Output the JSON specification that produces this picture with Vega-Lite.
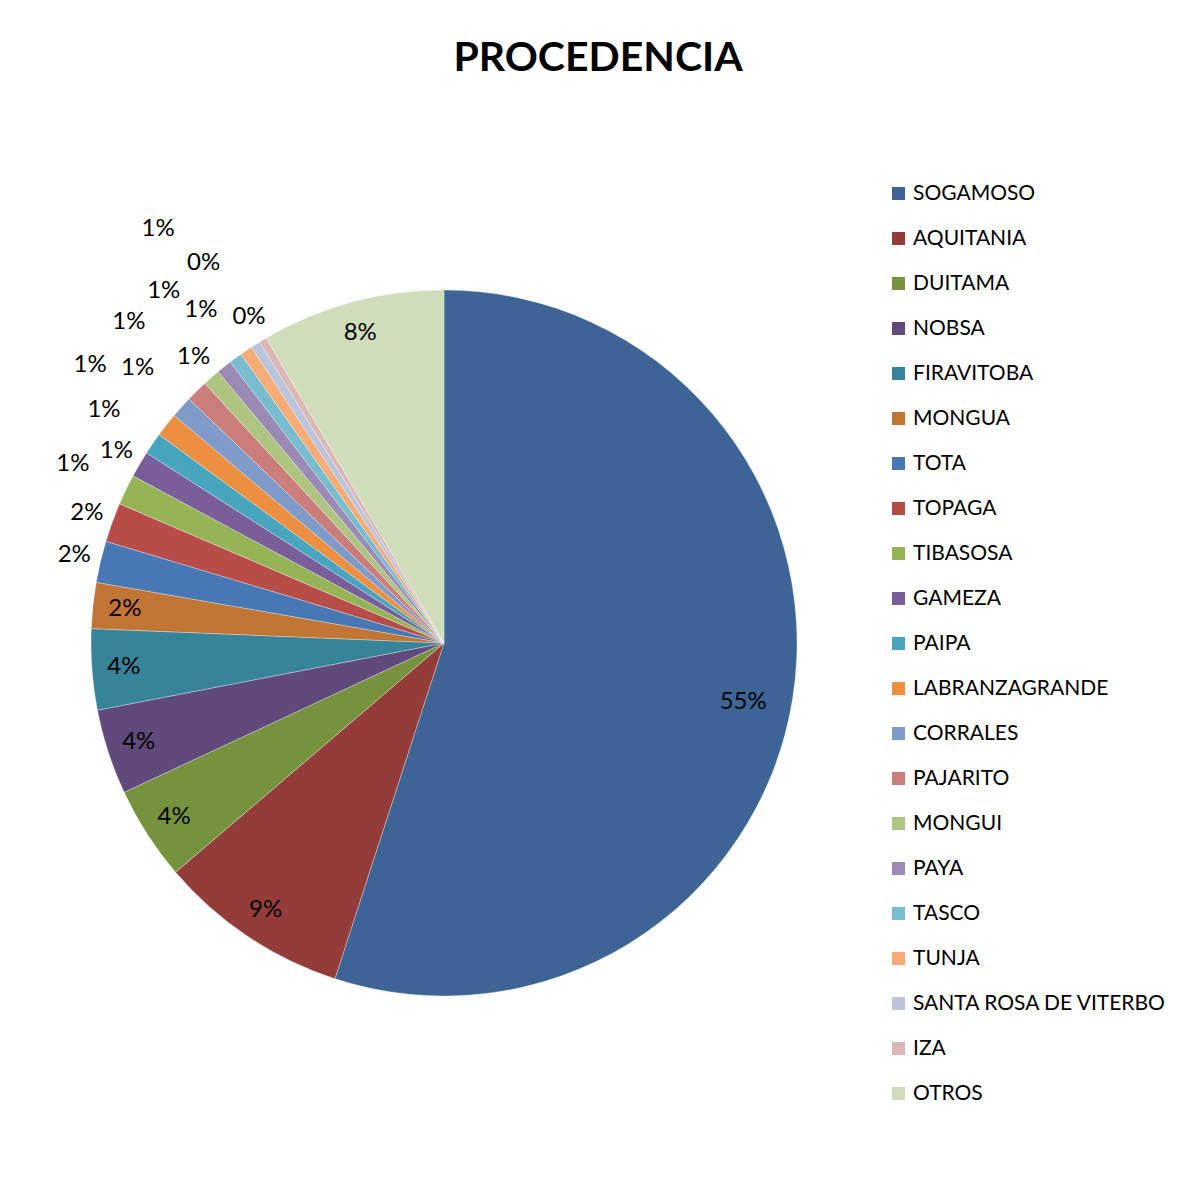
{
  "$schema": "https://vega.github.io/schema/vega-lite/v6.json",
  "autosize": {"type": "none"},
  "padding": {"left": 0, "top": 100, "right": 293, "bottom": 11},
  "width": 888,
  "height": 1086,
  "background": "#ffffff",
  "title": {
    "text": "PROCEDENCIA",
    "font": "Lato",
    "fontSize": 41,
    "fontWeight": "bold",
    "color": "#000000",
    "anchor": "middle",
    "frame": "group",
    "dx": 154,
    "dy": 40,
    "offset": 28,
    "baseline": "alphabetic"
  },
  "data": {
    "values": [
      {"procedencia": "SOGAMOSO", "porcentaje": 55.0, "orden": 1},
      {"procedencia": "AQUITANIA", "porcentaje": 8.75, "orden": 2},
      {"procedencia": "DUITAMA", "porcentaje": 4.3, "orden": 3},
      {"procedencia": "NOBSA", "porcentaje": 3.9, "orden": 4},
      {"procedencia": "FIRAVITOBA", "porcentaje": 3.7, "orden": 5},
      {"procedencia": "MONGUA", "porcentaje": 2.1, "orden": 6},
      {"procedencia": "TOTA", "porcentaje": 1.9, "orden": 7},
      {"procedencia": "TOPAGA", "porcentaje": 1.8, "orden": 8},
      {"procedencia": "TIBASOSA", "porcentaje": 1.4, "orden": 9},
      {"procedencia": "GAMEZA", "porcentaje": 1.2, "orden": 10},
      {"procedencia": "PAIPA", "porcentaje": 1.0, "orden": 11},
      {"procedencia": "LABRANZAGRANDE", "porcentaje": 1.1, "orden": 12},
      {"procedencia": "CORRALES", "porcentaje": 1.0, "orden": 13},
      {"procedencia": "PAJARITO", "porcentaje": 1.0, "orden": 14},
      {"procedencia": "MONGUI", "porcentaje": 0.8, "orden": 15},
      {"procedencia": "PAYA", "porcentaje": 0.7, "orden": 16},
      {"procedencia": "TASCO", "porcentaje": 0.6, "orden": 17},
      {"procedencia": "TUNJA", "porcentaje": 0.56, "orden": 18},
      {"procedencia": "SANTA ROSA DE VITERBO", "porcentaje": 0.44, "orden": 19},
      {"procedencia": "IZA", "porcentaje": 0.35, "orden": 20},
      {"procedencia": "OTROS", "porcentaje": 8.4, "orden": 21}
    ]
  },
  "transform": [
    {"joinaggregate": [{"op": "sum", "field": "porcentaje", "as": "total"}]},
    {"calculate": "format(datum.porcentaje / datum.total, '.0%')", "as": "etiqueta"}
  ],
  "encoding": {
    "theta": {"field": "porcentaje", "type": "quantitative", "stack": true},
    "order": {"field": "orden", "type": "quantitative", "sort": "ascending"}
  },
  "layer": [
    {
      "mark": {"type": "arc", "outerRadius": 353, "stroke": "#ffffff", "strokeWidth": 0.5, "strokeOpacity": 0.6},
      "encoding": {
        "color": {
          "field": "procedencia",
          "type": "nominal",
          "sort": null,
          "scale": {
            "domain": ["SOGAMOSO", "AQUITANIA", "DUITAMA", "NOBSA", "FIRAVITOBA", "MONGUA", "TOTA", "TOPAGA", "TIBASOSA", "GAMEZA", "PAIPA", "LABRANZAGRANDE", "CORRALES", "PAJARITO", "MONGUI", "PAYA", "TASCO", "TUNJA", "SANTA ROSA DE VITERBO", "IZA", "OTROS"],
            "range": ["#3C6595", "#943C39", "#76923C", "#604A7B", "#378399", "#C07534", "#4878B4", "#B84C49", "#94B456", "#7A5E9A", "#47A5BE", "#EC8F41", "#7E9BC9", "#CA7D7B", "#AEC581", "#9B89B6", "#78BCD0", "#F7AC77", "#B9C4DD", "#DDB7B6", "#D0DDBB"]
          },
          "legend": {
            "title": null,
            "orient": "none",
            "legendX": 888,
            "legendY": 83,
            "padding": 0,
            "symbolType": "square",
            "symbolSize": 169,
            "symbolStrokeWidth": 0,
            "labelFont": "Lato",
            "labelFontSize": 21,
            "labelColor": "#000000",
            "labelOffset": 4,
            "rowPadding": 23,
            "labelLimit": 400
          }
        }
      }
    },
    {
      "mark": {"type": "text", "radius": 321, "font": "Lato", "fontSize": 24, "color": "#000000"},
      "encoding": {
        "text": {
          "condition": {"test": "indexof(['AQUITANIA','DUITAMA','NOBSA','FIRAVITOBA','MONGUA','OTROS'], datum.procedencia) >= 0", "field": "etiqueta"},
          "value": ""
        }
      }
    },
    {
      "mark": {"type": "text", "radius": 311, "font": "Lato", "fontSize": 24, "color": "#000000", "dx": -8, "dy": 10},
      "encoding": {
        "text": {
          "condition": {"test": "datum.procedencia === 'SOGAMOSO'", "field": "etiqueta"},
          "value": ""
        }
      }
    },
    {
      "mark": {"type": "text", "radius": 380, "font": "Lato", "fontSize": 24, "color": "#000000"},
      "encoding": {
        "text": {
          "condition": {"test": "indexof(['TOTA','TOPAGA','GAMEZA','MONGUI','IZA'], datum.procedencia) >= 0", "field": "etiqueta"},
          "value": ""
        }
      }
    },
    {
      "mark": {"type": "text", "radius": 412, "font": "Lato", "fontSize": 24, "color": "#000000"},
      "encoding": {
        "text": {
          "condition": {"test": "indexof(['TIBASOSA','PAIPA','CORRALES','TASCO'], datum.procedencia) >= 0", "field": "etiqueta"},
          "value": ""
        }
      }
    },
    {
      "mark": {"type": "text", "radius": 450, "font": "Lato", "fontSize": 24, "color": "#000000"},
      "encoding": {
        "text": {
          "condition": {"test": "indexof(['LABRANZAGRANDE','PAJARITO','PAYA','SANTA ROSA DE VITERBO'], datum.procedencia) >= 0", "field": "etiqueta"},
          "value": ""
        }
      }
    },
    {
      "mark": {"type": "text", "radius": 510, "font": "Lato", "fontSize": 24, "color": "#000000", "dy": 8},
      "encoding": {
        "text": {
          "condition": {"test": "datum.procedencia === 'TUNJA'", "field": "etiqueta"},
          "value": ""
        }
      }
    }
  ],
  "config": {"view": {"stroke": null}}
}
